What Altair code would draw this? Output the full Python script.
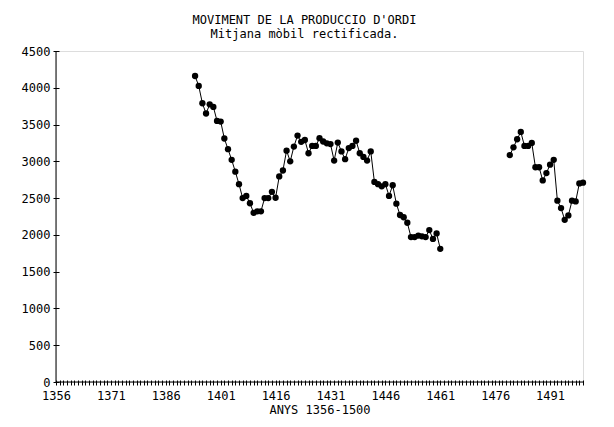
import altair as alt
import pandas as pd

# ---- data ----
years_a = list(range(1394, 1462))
values_a = [4160, 4025, 3790, 3650, 3775, 3740, 3550, 3540, 3310, 3165,
            3020, 2860, 2690, 2500, 2530, 2430, 2300, 2320, 2320, 2500,
            2500, 2585, 2505, 2795, 2875, 3145, 3000, 3200, 3350, 3265,
            3290, 3110, 3210, 3210, 3315, 3270, 3245, 3235, 3010, 3255,
            3135, 3030, 3180, 3210, 3280, 3110, 3060, 3010, 3135, 2720,
            2690, 2660, 2690, 2530, 2675, 2425, 2270, 2240, 2165, 1970,
            1970, 1990, 1980, 1970, 2065, 1945, 2020, 1810]
years_b = list(range(1480, 1501))
values_b = [3085, 3190, 3300, 3400, 3210, 3210, 3250, 2920, 2920, 2740,
            2840, 2955, 3020, 2465, 2365, 2205, 2265, 2465, 2455, 2700, 2710]

x_ticks = list(range(1356, 1501))
y_ticks = list(range(0, 4501, 500))
title_lines = ["MOVIMENT DE LA PRODUCCIO D'ORDI", "Mitjana mòbil rectificada."]
x_title = "ANYS 1356-1500"

df = pd.DataFrame({
    "year": years_a + years_b,
    "value": values_a + values_b,
    "seg": ["a"] * len(years_a) + ["b"] * len(years_b),
})

FONT = "DejaVu Sans Mono"
FS = 12

x_scale = alt.Scale(domain=[1356, 1500], nice=False, zero=False)
y_scale = alt.Scale(domain=[0, 4500], nice=False)

x_axis = alt.Axis(values=x_ticks, format="d",
                  labelExpr="(datum.value - 1356) % 15 == 0 ? datum.label : ''",
                  domain=False, grid=False, tickSize=5, offset=-2,
                  tickColor="black", tickWidth=1,
                  labelFont=FONT, labelFontSize=FS, labelColor="black",
                  labelPadding=5, labelOverlap=False, labelFlush=False,
                  title=x_title, titleFont=FONT, titleFontSize=FS,
                  titleFontWeight="normal", titleColor="black", titlePadding=3)
y_axis = alt.Axis(values=y_ticks, format="d", domain=False, grid=False,
                  tickSize=6, offset=-3, tickColor="black", tickWidth=1,
                  labelFont=FONT, labelFontSize=FS, labelColor="black",
                  labelPadding=3, title=None,
                  labelOverlap=False, labelFlush=False)

base = alt.Chart(df)

line = base.mark_line(color="black", strokeWidth=1).encode(
    x=alt.X("year:Q", scale=x_scale, axis=x_axis),
    y=alt.Y("value:Q", scale=y_scale, axis=y_axis),
    detail="seg:N",
)
pts = base.mark_point(filled=True, color="black", size=40, opacity=1).encode(
    x=alt.X("year:Q", scale=x_scale, axis=x_axis),
    y=alt.Y("value:Q", scale=y_scale, axis=y_axis),
)

xline = alt.Chart(pd.DataFrame({"a": [0]})).mark_rule(color="black", strokeWidth=1).encode(
    x=alt.datum(1356, scale=x_scale, axis=x_axis, type="quantitative"),
    x2=alt.datum(1500),
    y=alt.datum(0, scale=y_scale, axis=y_axis, type="quantitative"),
)
yline = alt.Chart(pd.DataFrame({"a": [0]})).mark_rule(color="black", strokeWidth=1).encode(
    x=alt.datum(1356, scale=x_scale, axis=x_axis, type="quantitative"),
    y=alt.datum(0, scale=y_scale, axis=y_axis, type="quantitative"),
    y2=alt.datum(4500),
)

chart = alt.layer(xline, yline, line, pts).properties(
    width=527,
    height=331,
    autosize=alt.AutoSizeParams(type="none"),
    padding={"left": 48, "top": 43, "right": 23, "bottom": 37},
    title=alt.TitleParams(title_lines, font=FONT, fontSize=FS, fontWeight="normal",
                          color="black", anchor="middle", offset=4,
                          lineHeight=14, dx=-15),
).configure_view(stroke=None).configure(background="white")

chart.save("out.html", embed_options={"renderer": "svg", "actions": False})
